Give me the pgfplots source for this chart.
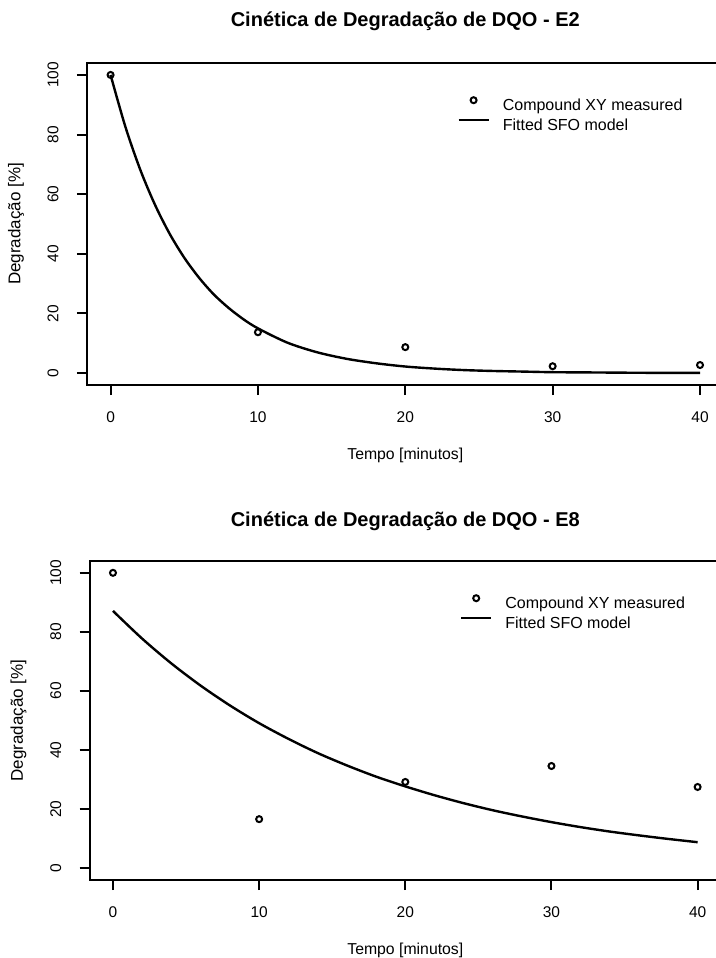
\documentclass[border=0pt]{standalone}
\usepackage{fontspec}
\setmainfont{Liberation Sans}
\usepackage{pgfplots}
\pgfplotsset{compat=1.18}
\pgfplotsset{
  rplot/.style={
    scale only axis,
    xmin=-1.6, xmax=41.6, ymin=-4, ymax=104,
    xtick={0,10,20,30,40}, ytick={0,20,40,60,80,100},
    xtick pos=lower, ytick pos=left,
    tick align=outside, major tick length=5pt,
    axis line style={line width=1pt},
    every tick/.style={black, line width=1pt},
    tick label style={font=\fontsize{7.75}{9}\selectfont},
    /pgf/number format/assume math mode=true,
    yticklabel style={xshift=-2.5pt, rotate=90, anchor=south, inner sep=0pt},
    xticklabel style={yshift=-1.5pt, anchor=north, inner sep=0pt},
    xticklabel shift=6.5pt, yticklabel shift=6.5pt,
    xlabel={Tempo [minutos]}, ylabel={Degradação [\%]},
    xlabel style={font=\fontsize{7.9}{9}\selectfont, at={([yshift=-35pt]axis description cs:0.5,0)}, anchor=center},
    ylabel style={font=\fontsize{8.5}{10}\selectfont, at={([xshift=-35.5pt]axis description cs:0,0.5)}, anchor=center, rotate=0},
    every axis title shift=0pt,
    title style={font=\fontsize{10}{12}\bfseries\selectfont, anchor=center, yshift=0pt},
    legend style={draw=none, fill=none, inner sep=0pt, at={(axis description cs:0,1)},
      anchor=north west, xshift=185pt, yshift=-16.9pt, row sep=2pt, column sep=6.5pt,
      font=\fontsize{8}{9.6}\selectfont,
      nodes={inner sep=0pt, text height=6pt, text depth=2pt}},
    legend cell align=left,
  },
  rpts/.style={only marks, mark=o, mark size=1.5pt, line width=1pt, black,
    legend image code/.code={\draw[mark repeat=2,mark phase=2,##1] plot coordinates {(0pt,2.9pt)(7.5pt,2.9pt)(15pt,2.9pt)};}},
  rline/.style={no marks, line width=1.2pt, black, smooth,
    legend image code/.code={\draw[##1] (0pt,2.9pt) -- (15pt,2.9pt);}},
}
\begin{document}
\begin{tikzpicture}
\begin{axis}[rplot, at={(43.5pt,-192.5pt)}, anchor=south west, width=318.3pt, height=161pt,
  title={Cinética de Degradação de DQO - E2},
  title style={at={([yshift=21pt]axis description cs:0.5,1)}}]
\addplot[rpts] coordinates {(0,100) (10,13.7) (20,8.7) (30,2.3) (40,2.7)};
\addlegendentry{Compound XY measured}
\addplot[rline] coordinates {
(0,100) (1,82.7) (2,68.4) (3,56.6) (4,46.8) (5,38.7) (6,32.0) (7,26.4) (8,21.9) (9,18.1)
(10,15.0) (12,10.2) (14,7.0) (16,4.8) (18,3.3) (20,2.2) (22,1.5) (24,1.0) (26,0.7) (28,0.5)
(30,0.3) (33,0.2) (36,0.1) (40,0.05)};
\addlegendentry{Fitted SFO model}
\end{axis}
\begin{axis}[rplot, at={(44.8pt,-440pt)}, anchor=south west, width=315.7pt, height=159.5pt,
  title={Cinética de Degradação de DQO - E8},
  title style={at={([yshift=20pt]axis description cs:0.5,1)}}]
\addplot[rpts] coordinates {(0,100) (10,16.6) (20,29.2) (30,34.6) (40,27.5)};
\addlegendentry{Compound XY measured}
\addplot[rline] coordinates {
(0,87.1) (2,77.7) (4,69.3) (6,61.8) (8,55.1) (10,49.1) (12,43.8) (14,39.0) (16,34.8) (18,31.0)
(20,27.7) (22,24.7) (24,22.0) (26,19.6) (28,17.5) (30,15.6) (32,13.9) (34,12.4) (36,11.1) (38,9.9) (40,8.8)};
\addlegendentry{Fitted SFO model}
\end{axis}
\pgfresetboundingbox
\path[use as bounding box] (0pt,0pt) rectangle (358pt,-479pt);
\end{tikzpicture}
\end{document}
